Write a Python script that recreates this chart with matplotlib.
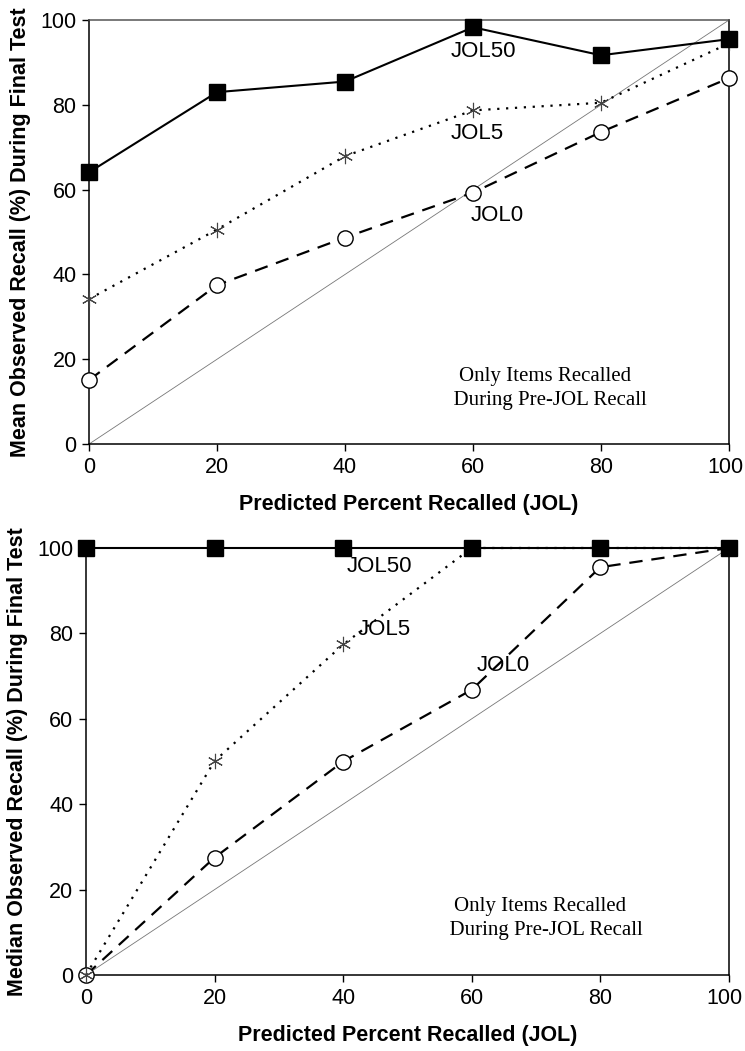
import matplotlib
matplotlib.use("Agg")
import matplotlib.pyplot as plt
from matplotlib import font_manager
from matplotlib.transforms import ScaledTranslation

# 예측 JOL 구간 (x축)
jol_bins = [0, 20, 40, 60, 80, 100]

# 위 그래프: 평균 회상률
mean_jol50 = [64.1, 83.0, 85.5, 98.3, 91.7, 95.5]
mean_jol5 = [34.2, 50.6, 67.9, 78.7, 80.5, 94.5]
mean_jol0 = [15.1, 37.5, 48.7, 59.3, 73.6, 86.3]

# 아래 그래프: 중앙값 회상률
median_jol50 = [100, 100, 100, 100, 100, 100]
median_jol5 = [0, 50.1, 77.4, 100, 100, 100]
median_jol0 = [0, 27.5, 50.0, 66.8, 95.5, 100]

y_ticks = [0, 20, 40, 60, 80, 100]
x_label = "Predicted Percent Recalled (JOL)"
y_labels = ["Mean Observed Recall (%) During Final Test",
            "Median Observed Recall (%) During Final Test"]
note = "Only Items Recalled\n  During Pre-JOL Recall"

# 글꼴 선택 (좁은 글꼴이 있으면 사용)
names = {f.name for f in font_manager.fontManager.ttflist}
narrow = "Liberation Sans Narrow" if "Liberation Sans Narrow" in names else "Liberation Sans"
plt.rcParams['font.family'] = [narrow, 'DejaVu Sans']

fig = plt.figure(figsize=(7.45, 10.51), dpi=100)
ax1 = fig.add_axes([0.1195, 0.5775, 0.859, 0.4034])
ax2 = fig.add_axes([0.1154, 0.0723, 0.863, 0.4063])


def draw_panel(ax, jol50, jol5, jol0, ylabel, label_pos, note_pos):
    # 대각선 (완전 보정선)
    ax.plot([0, 100], [0, 100], color="#777777", lw=0.6, zorder=1)
    ax.plot(jol_bins, jol0, color="black", lw=1.6, ls=(0, (6, 4)),
            marker="o", ms=11, mfc="white", mec="black", mew=1.0,
            clip_on=False, zorder=3)
    ax.plot(jol_bins, jol5, color="black", lw=1.6, ls=(0, (1, 3)),
            marker=(6, 2, 0), ms=11, mec="#444444", mew=0.8,
            clip_on=False, zorder=3)
    ax.plot(jol_bins, jol50, color="black", lw=1.5, ls="-",
            marker="s", ms=11, mfc="black", mec="black",
            clip_on=False, zorder=4)

    for name, (x, y) in label_pos.items():
        ax.text(x, y, name, fontsize=16, va="center", ha="left", zorder=5)
    ax.text(note_pos[0], note_pos[1], note, fontsize=15, ha="center",
            va="center", family="Liberation Serif", linespacing=1.35)

    ax.set_xlim(0, 100)
    ax.set_ylim(0, 100)
    ax.set_xticks(jol_bins)
    ax.set_yticks(y_ticks)
    ax.tick_params(direction="out", length=5, width=1, labelsize=15.5, pad=4)
    # 마지막 눈금 글자가 잘리지 않도록 조금 왼쪽으로
    last = ax.get_xticklabels()[-1]
    last.set_transform(last.get_transform() + ScaledTranslation(-4 / 100, 0, fig.dpi_scale_trans))
    for side in ["left", "bottom", "right"]:
        ax.spines[side].set_linewidth(1.1)
    ax.spines["top"].set_color("#555555")
    ax.spines["top"].set_linewidth(1.1)

    ax.set_xlabel(x_label, fontsize=15.5, fontweight="bold",
                  family="Liberation Sans", labelpad=12)
    ax.set_ylabel(ylabel, fontsize=15.5, fontweight="bold",
                  family="Liberation Sans")
    ax.yaxis.set_label_coords(-0.09, 0.5)


draw_panel(ax1, mean_jol50, mean_jol5, mean_jol0, y_labels[0],
           {"JOL50": (56.5, 92.5), "JOL5": (56.5, 73.3), "JOL0": (59.7, 54.0)},
           (71.3, 13.2))
draw_panel(ax2, median_jol50, median_jol5, median_jol0, y_labels[1],
           {"JOL50": (40.6, 95.7), "JOL5": (42.2, 81.0), "JOL0": (60.7, 72.5)},
           (70.7, 13.3))

fig.savefig("out.png", dpi=100)
